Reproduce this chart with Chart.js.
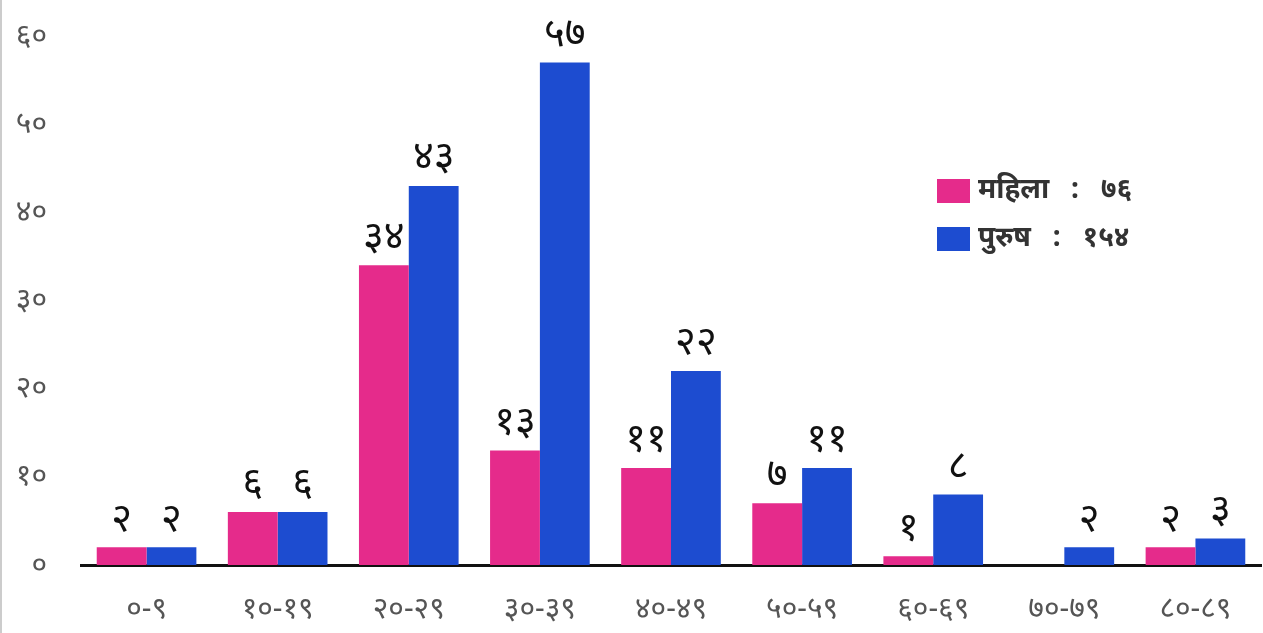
<!DOCTYPE html>
<html>
<head>
<meta charset="utf-8">
<script src="https://cdn.jsdelivr.net/npm/chart.js@4.4.1/dist/chart.umd.min.js"></script>
<style>
  html, body { margin: 0; padding: 0; background: #fff; }
  #wrap { width: 1263px; height: 633px; position: relative; box-sizing: border-box; border-left: 2px solid #ccc; }
</style>
</head>
<body>
<div id="wrap"><canvas id="agechart" width="1261" height="633"></canvas></div>
<script>
// age groups (Devanagari)
var ageGroups = ['०-९', '१०-१९', '२०-२९', '३०-३९', '४०-४९', '५०-५९', '६०-६९', '७०-७९', '८०-८९'];
var female = [2, 6, 34, 13, 11, 7, 1, 0, 2];
var male = [2, 6, 43, 57, 22, 11, 8, 2, 3];
var seriesNames = ['महिला', 'पुरुष'];
var seriesTotals = [76, 154];
var yTicks = [0, 10, 20, 30, 40, 50, 60];

var devDigits = ['०', '१', '२', '३', '४', '५', '६', '७', '८', '९'];
function toDev(n) {
    return String(n).replace(/[0-9]/g, function (d) { return devDigits[+d]; });
}

var pink = '#E52B8B';
var blue = '#1D4CD0';
var fontFam = "'Noto Sans', 'Lohit Devanagari', sans-serif";

// numbers above bars + legend box on the right
var labelsPlugin = {
    id: 'barLabels',
    afterDatasetsDraw: function (chart) {
        var ctx = chart.ctx;
        ctx.save();
        ctx.fillStyle = '#111';
        ctx.font = '40px ' + fontFam;
        ctx.textAlign = 'center';
        ctx.textBaseline = 'bottom';
        chart.data.datasets.forEach(function (ds, i) {
            chart.getDatasetMeta(i).data.forEach(function (bar, j) {
                var v = ds.data[j];
                if (!v) return;
                ctx.fillText(toDev(v), bar.x, bar.y - 8);
            });
        });
        // legend
        var colors = [pink, blue];
        ctx.textAlign = 'left';
        ctx.textBaseline = 'middle';
        ctx.font = 'bold 28px ' + fontFam;
        for (var k = 0; k < seriesNames.length; k++) {
            var y = 179 + k * 48;
            ctx.fillStyle = colors[k];
            ctx.fillRect(935, y, 33, 24);
            ctx.fillStyle = '#333';
            ctx.fillText(seriesNames[k] + '   :   ' + toDev(seriesTotals[k]), 976, y + 11);
        }
        ctx.restore();
    }
};

var ctx = document.getElementById('agechart').getContext('2d');
var agechart = new Chart(ctx, {
    type: 'bar',
    data: {
        labels: ageGroups,
        datasets: [{
            label: seriesNames[0],
            data: female,
            backgroundColor: pink,
            barPercentage: 1,
            categoryPercentage: 0.76
        }, {
            label: seriesNames[1],
            data: male,
            backgroundColor: blue,
            barPercentage: 1,
            categoryPercentage: 0.76
        }]
    },
    options: {
        responsive: false,
        animation: false,
        layout: { padding: { top: 36, right: 2, left: 0, bottom: 0 } },
        plugins: {
            legend: { display: false },
            tooltip: { enabled: false }
        },
        scales: {
            x: {
                grid: { display: false },
                border: { display: true, color: '#111', width: 3 },
                ticks: {
                    color: '#555',
                    font: { size: 30, family: fontFam },
                    padding: 18,
                    maxRotation: 0
                },
                afterFit: function (s) { s.height = 68; }
            },
            y: {
                min: 0,
                max: 60,
                grid: { display: false },
                border: { display: false },
                afterBuildTicks: function (s) {
                    s.ticks = yTicks.map(function (v) { return { value: v }; });
                },
                ticks: {
                    color: '#555',
                    font: { size: 30, family: fontFam, lineHeight: 1 },
                    padding: 26,
                    callback: function (v) { return toDev(v); }
                },
                afterFit: function (s) {
                    s.width = 79;
                    s.paddingTop = 0;
                    s.paddingBottom = 0;
                }
            }
        }
    },
    plugins: [labelsPlugin]
});
</script>
</body>
</html>
